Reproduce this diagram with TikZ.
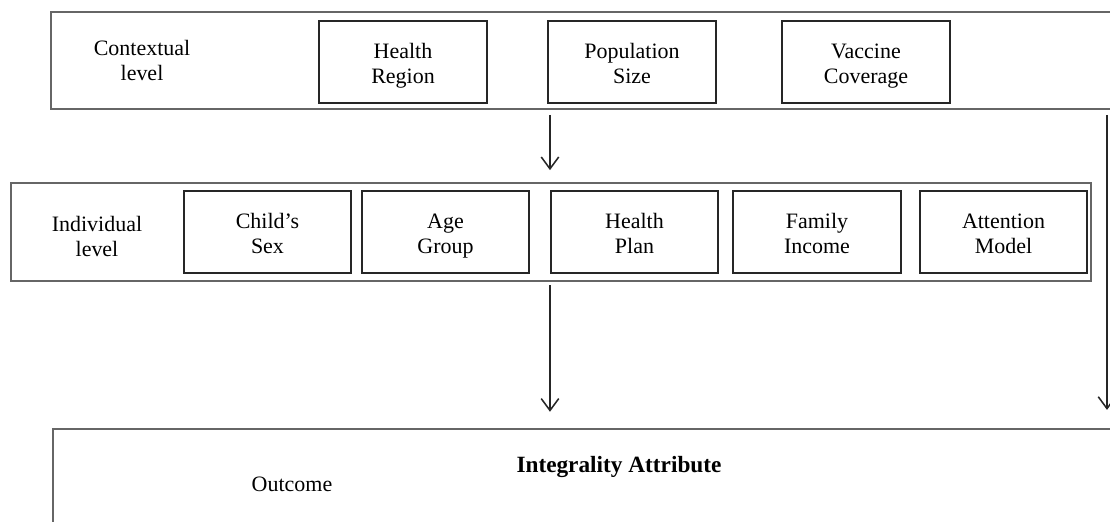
\documentclass[tikz,border=0pt]{standalone}
\usepackage{fontspec}
\setmainfont{Liberation Serif}
\usetikzlibrary{arrows.meta}
\newcommand{\twoline}[2]{\rule{0pt}{11.6pt}#1\\#2\strut}
\begin{document}
\begin{tikzpicture}[x=0.16mm, y=-0.16mm,
        levelbox/.style={draw=black!60, line width=0.9pt, anchor=north west},
        factor/.style={draw=black!85, line width=0.7pt, minimum width=26.8mm, minimum height=13.2mm, align=center, font=\fontsize{10}{11.5}\selectfont},
        tag/.style={align=center, font=\fontsize{10}{11.5}\selectfont},
        flow/.style={draw=black!85, line width=0.7pt, -{Straight Barb[length=1.9mm, width=2.8mm]}}]
    \useasboundingbox (0, 0) rectangle (1110, 521);
    \clip (0, 0) rectangle (1110, 521);
    % the three levels
    \node[levelbox, minimum width=172.8mm, minimum height=15.52mm] (ctx) at (50, 11) {};
    \node[levelbox, minimum width=172.8mm, minimum height=15.68mm] (ind) at (10, 182) {};
    \node[levelbox, minimum width=172.5mm, minimum height=19.2mm] (out) at (52, 428) {};
    % contextual level
    \node[tag] (ctxname) at (142, 59) {\twoline{Contextual}{level}};
    \node[factor] (region) at (403, 62) {\twoline{Health}{Region}};
    \node[factor] (popsize) at (632, 62) {\twoline{Population}{Size}};
    \node[factor] (vaccine) at (866, 62) {\twoline{Vaccine}{Coverage}};
    % individual level
    \node[tag] (indname) at (97, 235) {\twoline{Individual}{level}};
    \node[factor] (sex) at (267.5, 232) {\twoline{Child’s}{Sex}};
    \node[factor] (agegroup) at (445.5, 232) {\twoline{Age}{Group}};
    \node[factor] (plan) at (634.5, 232) {\twoline{Health}{Plan}};
    \node[factor] (income) at (817, 232) {\twoline{Family}{Income}};
    \node[factor] (model) at (1003.5, 232) {\twoline{Attention}{Model}};
    % outcome
    \node[tag] (outname) at (292, 484) {Outcome};
    \node[font=\fontsize{10.6}{12}\selectfont\bfseries] (attr) at (619, 467) {Integrality Attribute};
    % arrows
    \coordinate (side) at (1107, 0);
    \draw[flow, shorten <=0.8mm, shorten >=1.9mm] (ctx.south -| plan.west) -- (ind.north -| plan.west);
    \draw[flow, shorten <=0.5mm, shorten >=2.6mm] (ind.south -| plan.west) -- (out.north -| plan.west);
    \draw[flow, shorten <=0.8mm, shorten >=2.9mm] (ctx.south -| side) -- (out.north -| side);
\end{tikzpicture}
\end{document}
